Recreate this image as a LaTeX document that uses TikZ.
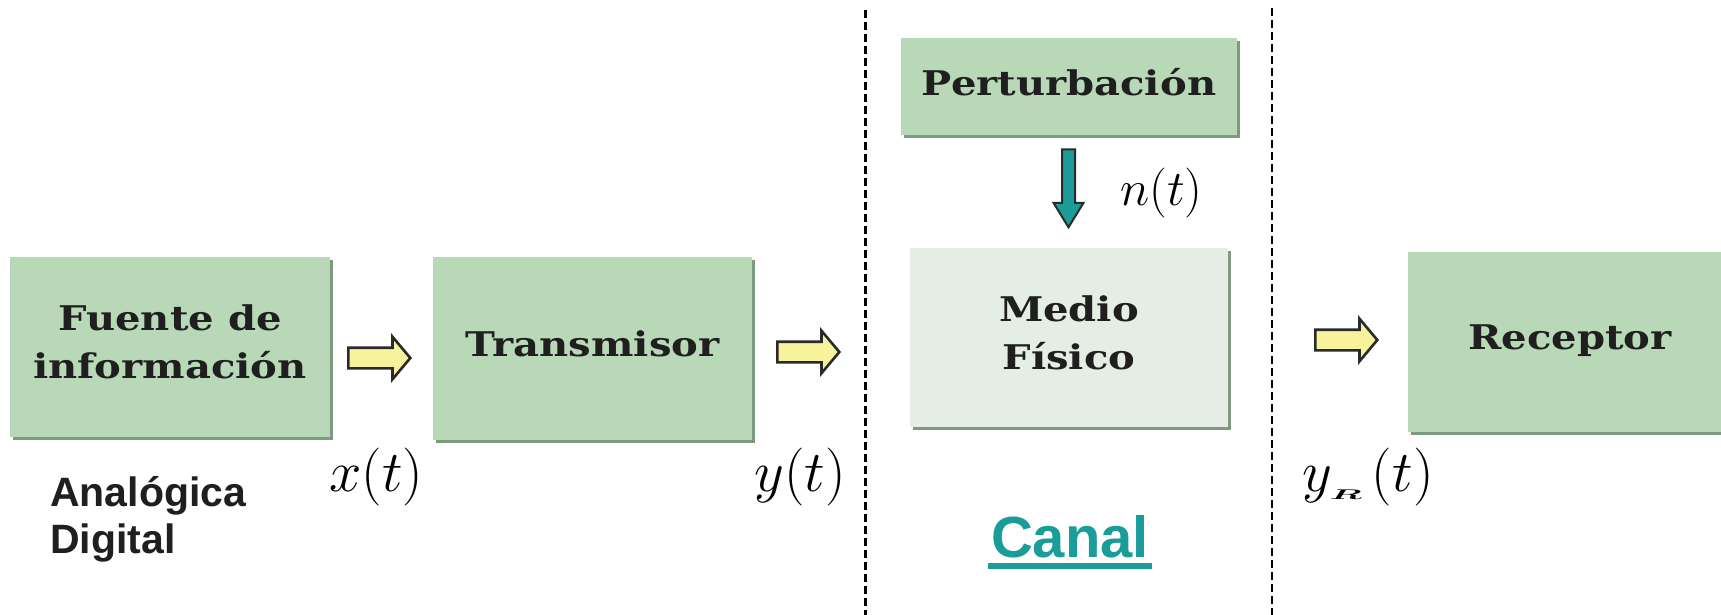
\RequirePackage{fix-cm}
\documentclass[tikz,border=0pt]{standalone}
\usepackage{bm}
\usepackage[no-math]{fontspec}
\setmainfont{DejaVu Serif}
\newfontfamily\boxfont{DejaVu Serif Bold}[FakeStretch=1.18]
\newfontfamily\arialfont{Liberation Sans Bold}
\usetikzlibrary{shapes.arrows,shadows}
\definecolor{boxgreen}{HTML}{B9D8B8}
\definecolor{mediocol}{HTML}{E5EEE5}
\definecolor{shadowcol}{HTML}{7E9A80}
\definecolor{yel}{HTML}{F7F39C}
\definecolor{arrowline}{HTML}{2A2A2A}
\definecolor{tealarrow}{HTML}{1C9C98}
\definecolor{canalteal}{HTML}{1A9C98}
\tikzset{
  box/.style={rectangle, fill=boxgreen, inner sep=0pt, align=center, text depth=10pt,
    font=\boxfont\fontsize{34}{48}\selectfont, text=black!88,
    drop shadow={shadow xshift=3pt, shadow yshift=-3pt, fill=shadowcol, opacity=1}},
  yarrow/.style={single arrow, draw=arrowline, fill=yel, line width=2.6pt,
    minimum height=62pt, inner xsep=0pt, inner ysep=9pt,
    single arrow tip angle=100, single arrow head extend=11pt},
  tarrow/.style={single arrow, draw=arrowline, fill=tealarrow, line width=2pt,
    shape border rotate=270, minimum height=78pt, inner xsep=5.5pt, inner ysep=0pt,
    single arrow tip angle=63, single arrow head extend=8.5pt},
  sig/.style={inner sep=0pt, anchor=base, font=\fontsize{58}{62}\selectfont},
  sans/.style={inner sep=0pt, anchor=base west, font=\arialfont\fontsize{41}{47}\selectfont, text=black!88},
  sep/.style={dash pattern=on 8pt off 4pt, line width=3pt, black}
}
\begin{document}
\begin{tikzpicture}[x=1pt, y=-1pt]
\useasboundingbox (0,0) rectangle (1721,615);
\clip (0,0) rectangle (1721,615);
\fill[white] (0,0) rectangle (1721,615);

% separators
\coordinate (s1t) at (865,10);
\coordinate (s1b) at (865,615);
\coordinate (s2t) at (1272,8);
\coordinate (s2b) at (1272,615);
\draw[sep] (s1t) -- (s1b);
\draw[sep, line width=2.5pt] (s2t) -- (s2b);

% boxes
\node[box, minimum width=320pt, minimum height=180pt] (fuente) at (170,347) {Fuente de\\información};
\node[box, minimum width=319pt, minimum height=183pt] (trans) at (592.5,348.5) {Transmisor};
\node[box, minimum width=336pt, minimum height=97pt] (pert) at (1069,86.5) {Perturbación};
\node[box, fill=mediocol, minimum width=318pt, minimum height=179pt] (medio) at (1069,337.5) {Medio\\Físico};
\node[box, minimum width=324pt, minimum height=180pt] (recep) at (1570,342) {Receptor};

% block arrows
\node[yarrow] (a1) at (375,358) {};
\node[yarrow] (a2) at (804,352) {};
\node[yarrow] (a3) at (1342,340) {};
\node[tarrow] (an) at (1068.5,183) {};

% signals
\node[sig] (xt) at (376.5,491) {$x(t)$};
\node[sig] (yt) at (800,491) {$y(t)$};
\node[sig, anchor=base west] (yrt) at (1302,491) {$y_{\scalebox{2.6}[1]{\fontsize{14}{14}\selectfont$\bm{R}$}}\,(t)$};
\node[sig, anchor=base west, font=\fontsize{50}{54}\selectfont] (nt) at (1120,205) {$n(t)$};

% side texts
\node[sans] (ana) at (50,506) {Analógica};
\node[sans] (dig) at (50,553) {Digital};
\node[inner sep=0pt, anchor=base, font=\arialfont\fontsize{58}{60}\selectfont, text=canalteal] (canal) at (1070,557) {Canal};
\draw[canalteal, line width=5.5pt] ([xshift=-3pt,yshift=-9pt]canal.base west) -- ([xshift=3pt,yshift=-9pt]canal.base east);
\end{tikzpicture}
\end{document}
